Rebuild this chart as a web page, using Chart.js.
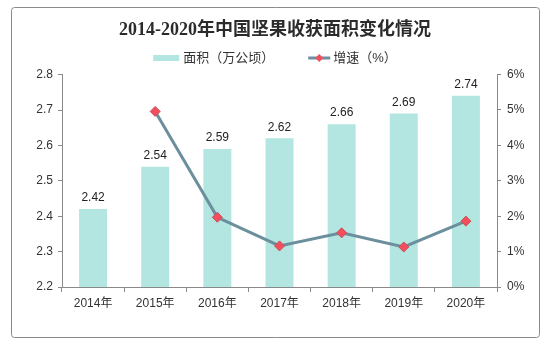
<!DOCTYPE html>
<html>
<head>
<meta charset="utf-8">
<script src="https://cdn.jsdelivr.net/npm/chart.js@4.4.1/dist/chart.umd.min.js"></script>
<style>
  html, body { margin: 0; padding: 0; background: #fff; }
  canvas { display: block; }
</style>
</head>
<body>
<canvas id="areaChart" width="544" height="345"></canvas>
<script>
const categories = ["2014年", "2015年", "2016年", "2017年", "2018年", "2019年", "2020年"];
const areaValues = [2.42, 2.54, 2.59, 2.62, 2.66, 2.69, 2.74];
const growthValues = [null, 4.96, 1.97, 1.16, 1.53, 1.13, 1.86];
const areaLabel = "面积（万公顷）";
const growthLabel = "增速（%）";

const SANS = "'Liberation Sans', Arial, 'Noto Sans CJK SC', sans-serif";
const barColor = "#b3e6e0";
const lineColor = "#6b8f9c";
const markerColor = "#f24e5c";
const axisColor = "#898989";

// outer frame around the whole chart
const framePlugin = {
  id: "frame",
  beforeDraw(chart) {
    const ctx = chart.ctx;
    ctx.save();
    ctx.fillStyle = "#fff";
    ctx.fillRect(0, 0, chart.width, chart.height);
    ctx.strokeStyle = "#8a8a8a";
    ctx.lineWidth = 1;
    ctx.beginPath();
    ctx.roundRect(11.5, 7.5, 528, 330, 3);
    ctx.stroke();
    ctx.restore();
  },
};

// value labels above the bars
const barLabels = {
  id: "barLabels",
  afterDatasetsDraw(chart) {
    const ctx = chart.ctx;
    const meta = chart.getDatasetMeta(1);
    ctx.save();
    ctx.font = "12px " + SANS;
    ctx.fillStyle = "#222";
    ctx.textAlign = "center";
    ctx.textBaseline = "bottom";
    meta.data.forEach((bar, i) => {
      ctx.fillText(areaValues[i].toFixed(2), bar.x, bar.y - 5);
    });
    ctx.restore();
  },
};

// legend: flat bar swatch and line-with-diamond swatch
const legendPlugin = {
  id: "customLegend",
  afterDraw(chart) {
    const ctx = chart.ctx;
    ctx.save();
    ctx.font = "13px " + SANS;
    const w1 = ctx.measureText(areaLabel).width;
    const w2 = ctx.measureText(growthLabel).width;
    const total = 26 + 4 + w1 + 34 + 22 + 3 + w2;
    let x = 275 - total / 2;
    const y = 58;
    ctx.fillStyle = barColor;
    ctx.fillRect(x, y - 3, 26, 6);
    x += 30;
    ctx.fillStyle = "#333";
    ctx.textBaseline = "middle";
    ctx.fillText(areaLabel, x, y);
    x += w1 + 34;
    ctx.strokeStyle = lineColor;
    ctx.lineWidth = 3;
    ctx.beginPath();
    ctx.moveTo(x, y);
    ctx.lineTo(x + 22, y);
    ctx.stroke();
    ctx.fillStyle = markerColor;
    ctx.beginPath();
    ctx.moveTo(x + 11, y - 4);
    ctx.lineTo(x + 15, y);
    ctx.lineTo(x + 11, y + 4);
    ctx.lineTo(x + 7, y);
    ctx.closePath();
    ctx.fill();
    x += 25;
    ctx.fillStyle = "#333";
    ctx.fillText(growthLabel, x, y);
    ctx.restore();
  },
};

new Chart(document.getElementById("areaChart").getContext("2d"), {
  data: {
    labels: categories,
    datasets: [
      {
        type: "line",
        label: growthLabel,
        data: growthValues,
        yAxisID: "y1",
        borderColor: lineColor,
        borderWidth: 3,
        pointStyle: "rectRot",
        pointRadius: 5,
        pointBackgroundColor: markerColor,
        pointBorderColor: "#c8505a",
        pointBorderWidth: 1,
        tension: 0,
        order: 0,
      },
      {
        type: "bar",
        label: areaLabel,
        data: areaValues,
        yAxisID: "y",
        backgroundColor: barColor,
        barPercentage: 0.9,
        categoryPercentage: 0.5,
        order: 1,
      },
    ],
  },
  options: {
    responsive: false,
    animation: false,
    devicePixelRatio: 1,
    layout: { padding: { left: 12, right: 6, bottom: 8, top: 0 } },
    plugins: {
      legend: { display: false },
      tooltip: { enabled: false },
      title: {
        display: true,
        text: "2014-2020年中国坚果收获面积变化情况",
        color: "#2b2b2b",
        font: { family: "'Liberation Serif', 'Noto Sans CJK SC', serif", size: 18, weight: "bold" },
        padding: { top: 20, bottom: 33 },
      },
    },
    scales: {
      x: {
        grid: { display: true, offset: true, drawOnChartArea: false, tickLength: 5, color: axisColor },
        border: { color: axisColor },
        ticks: { color: "#333", font: { family: SANS, size: 12 }, padding: 4 },
        afterFit(scale) { scale.height = 50; },
      },
      y: {
        position: "left",
        min: 2.2,
        max: 2.8,
        grid: { drawOnChartArea: false, tickLength: 4, color: axisColor },
        border: { color: axisColor },
        ticks: {
          stepSize: 0.1,
          color: "#333",
          font: { family: SANS, size: 12 },
          padding: 5,
          callback: (v) => v.toFixed(1),
        },
        afterFit(scale) { scale.width = 50; },
      },
      y1: {
        position: "right",
        min: 0,
        max: 6,
        grid: { drawOnChartArea: false, tickLength: 4, color: axisColor },
        border: { color: axisColor },
        ticks: {
          stepSize: 1,
          color: "#333",
          font: { family: SANS, size: 12 },
          padding: 6,
          callback: (v) => v + "%",
        },
        afterFit(scale) { scale.width = 41; },
      },
    },
  },
  plugins: [framePlugin, barLabels, legendPlugin],
});
</script>
</body>
</html>
